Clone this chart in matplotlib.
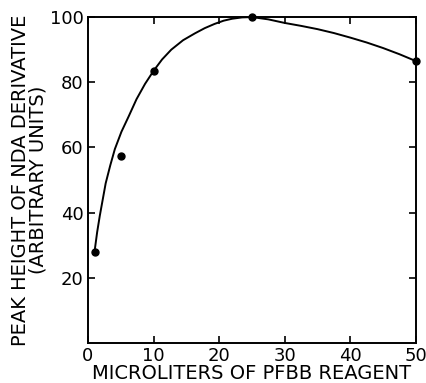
import matplotlib
matplotlib.use("Agg")
import matplotlib.pyplot as plt

# measured points
vol_ul = [1, 5, 10, 25, 50]
peak_height = [28, 57.5, 83.5, 100, 86.5]

# hand-drawn smooth curve
curve_x = [1, 1.4, 1.8, 2.7, 3.4, 4.1, 5.1, 6.2, 7.4, 8.7, 10, 11.3, 12.7,
           14.5, 16.3, 17.8, 19.3, 20.7, 22, 23.5, 25, 27.5, 30, 32.5, 35,
           37.5, 40, 42.5, 45, 47.5, 50]
curve_y = [28, 34, 39, 49, 54.5, 59.5, 64.8, 69.5, 74.8, 79.5, 83.5, 87, 90,
           92.9, 95, 96.6, 97.9, 98.9, 99.5, 99.9, 100, 99.3, 98.2, 97.3, 96.3,
           95.1, 93.7, 92.2, 90.5, 88.6, 86.5]

x_ticks = [0, 10, 20, 30, 40, 50]
y_ticks = [20, 40, 60, 80, 100]

plt.rcParams['font.family'] = ['DejaVu Sans']

fig = plt.figure(figsize=(4.27, 3.83), dpi=100)
ax = fig.add_axes([0.206, 0.1044, 0.768, 0.851])

ax.plot(curve_x, curve_y, color="black", lw=1.4, solid_capstyle="round",
        solid_joinstyle="round")
ax.plot(vol_ul, peak_height, "o", color="black", ms=5, clip_on=False, zorder=3)

ax.set_xlim(0, 50)
ax.set_ylim(0, 100)
ax.set_xticks(x_ticks)
ax.set_yticks(y_ticks)
ax.tick_params(direction="in", length=5, width=1.2, top=True, right=True,
               labelsize=13, pad=3)
for s in ax.spines.values():
    s.set_linewidth(1.4)

ax.set_xlabel("MICROLITERS OF PFBB REAGENT", fontsize=14, labelpad=-1)
ax.set_ylabel("PEAK HEIGHT OF NDA DERIVATIVE\n(ARBITRARY UNITS)", fontsize=14,
              labelpad=2, linespacing=0.9)

fig.savefig("out.png", dpi=100)
plt.close(fig)
